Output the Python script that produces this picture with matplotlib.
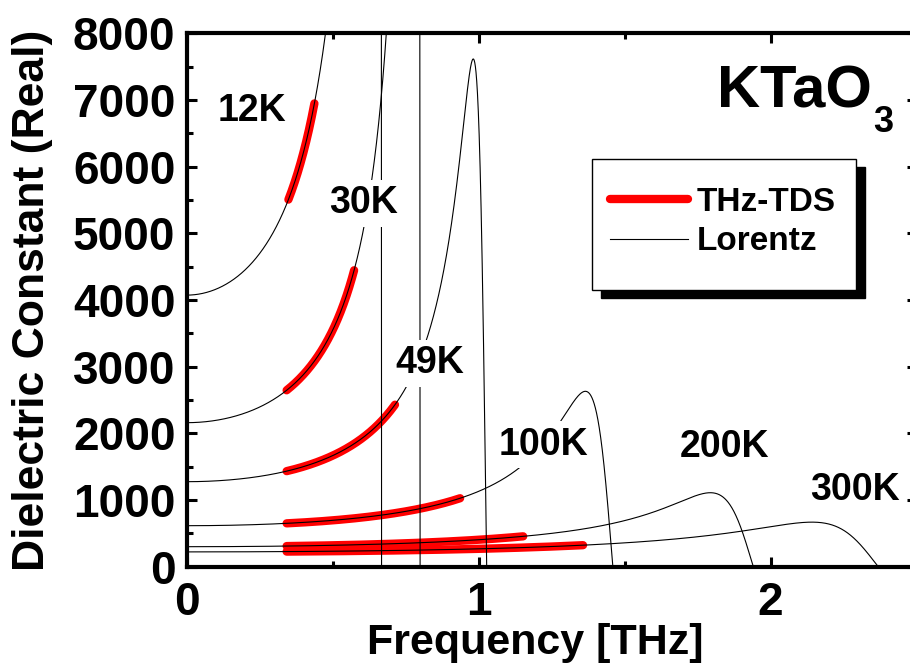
import numpy as np
import matplotlib
matplotlib.use('Agg')
import matplotlib.pyplot as plt
from matplotlib.patches import Rectangle
from matplotlib.lines import Line2D

# Lorentz oscillator parameters (one per temperature)
temps = ['12K', '30K', '49K', '100K', '200K', '300K']
eps_static = [4073, 2160, 1275, 615, 300, 222]     # value at 0 THz
eps_inf = [250, 0, 0, 0, 0, 0]
f_to = [0.668, 0.800, 1.028, 1.460, 1.941, 2.369]  # THz, soft mode
gamma = [0.02, 0.02, 0.09, 0.182, 0.283, 0.433]    # THz, damping

# THz-TDS measured band for each temperature (THz)
tds_start = [0.349, 0.343, 0.343, 0.343, 0.343, 0.343]
tds_end = [0.438, 0.574, 0.714, 0.937, 1.153, 1.358]

# label positions (THz, eps)
label_x = [0.224, 0.605, 0.834, 1.222, 1.842, 2.288]
label_y = [6832, 5448, 3049, 1830, 1790, 1150]


def lorentz_real(f, e0, einf, f0, g):
    d = f0 ** 2 - f ** 2
    return einf + (e0 - einf) * f0 ** 2 * d / (d ** 2 + (g * f) ** 2)


plt.rcParams['font.family'] = ['Liberation Sans', 'DejaVu Sans']
plt.rcParams['font.weight'] = 'bold'

fig = plt.figure(figsize=(9.1, 6.72), dpi=100)
ax = fig.add_axes([186.5 / 910, 105.3 / 672, 730 / 910, 533.4 / 672])

freq = np.linspace(0, 2.5, 6000)
for i in range(len(temps)):
    eps = lorentz_real(freq, eps_static[i], eps_inf[i], f_to[i], gamma[i])
    ax.plot(freq, eps, color='black', lw=0.8, zorder=3)
    fm = np.linspace(tds_start[i], tds_end[i], 200)
    em = lorentz_real(fm, eps_static[i], eps_inf[i], f_to[i], gamma[i])
    ax.plot(fm, em, color='red', lw=6, solid_capstyle='round', zorder=2)
    ax.text(label_x[i], label_y[i], temps[i], fontsize=27, fontweight='bold',
            ha='center', va='center', zorder=5,
            bbox=dict(facecolor='white', edgecolor='none', pad=4))

ax.set_xlim(0, 2.5)
ax.set_ylim(0, 8000)
ax.set_xticks([0, 1, 2])
ax.set_xticks([0.5, 1.5, 2.5], minor=True)
ax.set_yticks(np.arange(0, 8001, 1000))
ax.set_yticks(np.arange(500, 8000, 1000), minor=True)
ax.tick_params(which='both', direction='in', top=True, right=True,
               labelsize=33, width=2.2)
ax.tick_params(which='major', length=7, pad=8)
ax.tick_params(axis='x', which='major', pad=10)
ax.tick_params(which='minor', length=4)
for s in ax.spines.values():
    s.set_linewidth(3)

ax.set_xlabel('Frequency [THz]', fontsize=31, fontweight='bold')
ax.xaxis.set_label_coords((535 - 186.5) / 730, -0.106)
ax.set_ylabel('Dielectric Constant (Real)', fontsize=32, fontweight='bold')
ax.yaxis.set_label_coords(-0.183, 0.5)

# title text
ax.text((871.7 - 186.5) / 730, (566.7 - 92) / 533.4, 'KTaO', transform=ax.transAxes,
        fontsize=43, fontweight='bold', ha='right', va='center', zorder=5)
ax.text((873 - 186.5) / 730, (566.7 - 122) / 533.4, '3', transform=ax.transAxes,
        fontsize=26, fontweight='bold', ha='left', va='center', zorder=5)

# legend box with solid shadow
bx0, bx1 = (591.7 - 186.5) / 730, (856 - 186.5) / 730
by0, by1 = (566.7 - 290) / 533.4, (566.7 - 159) / 533.4
dx, dy = 9 / 730, 8 / 533.4
ax.add_patch(Rectangle((bx0 + dx, by0 - dy), bx1 - bx0, by1 - by0, transform=ax.transAxes,
                       facecolor='black', edgecolor='black', zorder=6))
ax.add_patch(Rectangle((bx0, by0), bx1 - bx0, by1 - by0, transform=ax.transAxes,
                       facecolor='white', edgecolor='black', lw=1, zorder=7))
handles = [Line2D([], [], color='red', lw=6, solid_capstyle='round'),
           Line2D([], [], color='black', lw=0.8)]
leg = ax.legend(handles, ['THz-TDS', 'Lorentz'], loc='center left',
                bbox_to_anchor=((610 - 186.5) / 730, (566.7 - 222) / 533.4),
                frameon=False, handlelength=2.35, handletextpad=0.25,
                labelspacing=0.25, borderpad=0, borderaxespad=0,
                prop={'weight': 'bold', 'size': 24})
leg.set_zorder(8)

fig.savefig('out.png', dpi=100)
